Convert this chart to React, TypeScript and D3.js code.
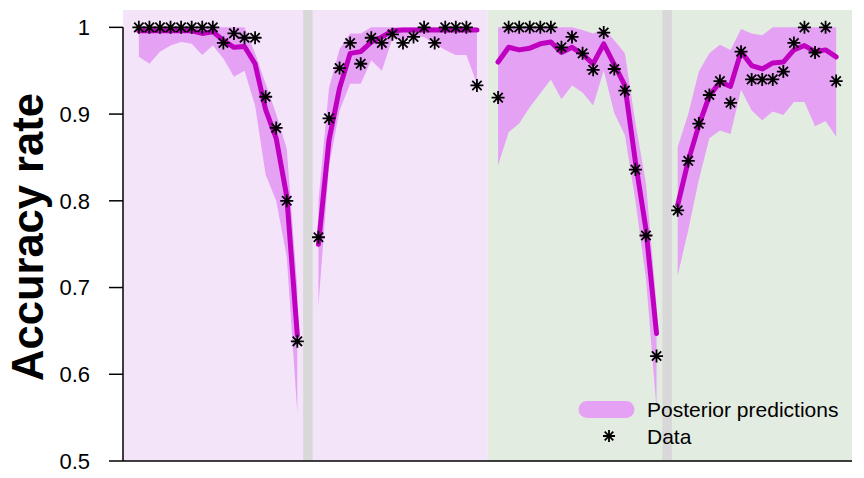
import React from 'react';
import * as d3 from 'd3';

// observed accuracy, one array per block of 16 trials
const dataBlocks = [
  [1, 1, 1, 1, 1, 1, 1, 1, 0.982, 0.993, 0.988, 0.988, 0.92, 0.884, 0.8, 0.638],
  [0.758, 0.895, 0.953, 0.982, 0.958, 0.988, 0.982, 0.992, 0.982, 0.989, 1, 0.982, 1, 1, 1, 0.933],
  [0.919, 1, 1, 1, 1, 1, 0.977, 0.989, 0.97, 0.951, 0.994, 0.952, 0.927, 0.836, 0.76, 0.621],
  [0.789, 0.846, 0.889, 0.922, 0.938, 0.913, 0.972, 0.94, 0.94, 0.94, 0.949, 0.982, 1, 0.971, 1, 0.938],
];

// posterior predictive mean
const meanBlocks = [
  [0.996, 0.996, 0.996, 0.996, 0.996, 0.996, 0.993, 0.995, 0.985, 0.977, 0.978, 0.958, 0.905, 0.872, 0.805, 0.645],
  [0.75, 0.87, 0.93, 0.97, 0.972, 0.983, 0.989, 0.996, 0.997, 0.997, 0.997, 0.997, 0.997, 0.997, 0.997, 0.997],
  [0.96, 0.977, 0.974, 0.976, 0.981, 0.983, 0.971, 0.977, 0.969, 0.958, 0.981, 0.957, 0.933, 0.845, 0.767, 0.647],
  [0.795, 0.846, 0.887, 0.921, 0.937, 0.932, 0.972, 0.956, 0.952, 0.959, 0.96, 0.974, 0.979, 0.972, 0.974, 0.966],
];

// posterior predictive interval
const lowerBlocks = [
  [0.966, 0.958, 0.972, 0.979, 0.983, 0.981, 0.968, 0.979, 0.964, 0.943, 0.95, 0.91, 0.83, 0.8, 0.735, 0.555],
  [0.68, 0.84, 0.904, 0.935, 0.935, 0.962, 0.95, 0.987, 0.985, 0.99, 0.989, 0.981, 0.974, 0.968, 0.968, 0.935],
  [0.841, 0.879, 0.889, 0.908, 0.924, 0.94, 0.917, 0.933, 0.925, 0.91, 0.95, 0.901, 0.876, 0.8, 0.71, 0.56],
  [0.714, 0.766, 0.824, 0.872, 0.881, 0.877, 0.928, 0.904, 0.893, 0.903, 0.899, 0.914, 0.914, 0.886, 0.892, 0.874],
];
const upperBlocks = [
  [1, 1, 1, 1, 1, 1, 1, 1, 1, 1, 1, 0.97, 0.935, 0.9, 0.86, 0.7],
  [0.8, 0.93, 0.975, 0.993, 0.993, 1, 1, 1, 1, 1, 1, 1, 1, 1, 1, 1],
  [1, 1, 1, 1, 1, 1, 1, 1, 0.997, 0.993, 0.998, 0.985, 0.97, 0.89, 0.82, 0.68],
  [0.862, 0.9, 0.949, 0.97, 0.98, 0.974, 0.998, 0.993, 0.991, 1, 1, 1, 1, 1, 1, 1],
];

const yTicks = [0.5, 0.6, 0.7, 0.8, 0.9, 1];
const yTickLabels = ['0.5', '0.6', '0.7', '0.8', '0.9', '1'];
const legendLabels = ['Posterior predictions', 'Data'];

const W = 864;
const H = 478;
const blockGap = 17; // trials per block + one empty slot
const FONT = '"Liberation Sans", Arial, Helvetica, sans-serif';

const BAND = '#e5a2f4';
const LINE = '#c000c0';

function Star({ x, y, r = 6.5 }: { x: number; y: number; r?: number }) {
  const d = r * 0.72;
  return (
    <path
      d={`M${x - r},${y}H${x + r}M${x},${y - r}V${y + r}M${x - d},${y - d}L${x + d},${y + d}M${x - d},${y + d}L${x + d},${y - d}`}
      stroke="#000"
      strokeWidth={1.8}
      fill="none"
    />
  );
}

export default function App() {
  const left = 123, right = 852, top = 10, bottom = 461;

  const x = d3.scaleLinear().domain([-1.5, 67.5]).range([left, right]);
  const y = d3.scaleLinear().domain([0.5, 1.02]).range([bottom, top]);

  const area = d3.area<number[]>()
    .x(d => x(d[0]))
    .y0(d => y(d[1]))
    .y1(d => y(d[2]));
  const line = d3.line<number[]>()
    .x(d => x(d[0]))
    .y(d => y(d[1]));

  return (
    <svg width={W} height={H} style={{ position: 'absolute', left: 0, top: 0, background: '#fff' }}>
      {/* condition backgrounds */}
      <rect x={x(-1.5)} y={top} width={x(33) - x(-1.5)} height={bottom - top} fill="#f4e4fa" />
      <rect x={x(33)} y={top} width={x(67.5) - x(33)} height={bottom - top} fill="#e3ece0" />
      {[16, 50].map(c => (
        <rect key={c} x={x(c - 0.45)} y={top} width={x(c + 0.45) - x(c - 0.45)} height={bottom - top} fill="#d8d8d8" />
      ))}

      {/* bands */}
      {dataBlocks.map((_, b) => {
        const pts = lowerBlocks[b].map((lo, j) => [b * blockGap + j, lo, upperBlocks[b][j]]);
        return <path key={'a' + b} d={area(pts) || ''} fill={BAND} />;
      })}

      {/* mean lines */}
      {meanBlocks.map((m, b) => {
        const pts = m.map((v, j) => [b * blockGap + j, v]);
        return <path key={'l' + b} d={line(pts) || ''} fill="none" stroke={LINE} strokeWidth={5} strokeLinejoin="round" strokeLinecap="round" />;
      })}

      {/* observed data */}
      {dataBlocks.map((vals, b) =>
        vals.map((v, j) => <Star key={`s${b}-${j}`} x={x(b * blockGap + j)} y={y(v)} />)
      )}

      {/* axes */}
      <line x1={left} x2={right} y1={bottom} y2={bottom} stroke="#000" strokeWidth={1.5} />
      <line x1={left} x2={left} y1={y(1)} y2={bottom} stroke="#000" strokeWidth={1.5} />
      {yTicks.map((t, i) => (
        <g key={t}>
          <line x1={left - 14} x2={left} y1={y(t)} y2={y(t)} stroke="#000" strokeWidth={1.5} />
          <text x={left - 33} y={y(t)} dy="0.36em" textAnchor="end" fontFamily={FONT} fontSize={22} fill="#000">
            {yTickLabels[i]}
          </text>
        </g>
      ))}
      <text
        transform={`translate(43, 237) rotate(-90)`}
        textAnchor="middle"
        fontFamily={FONT}
        fontWeight="bold"
        fontSize={43.5}
        fill="#000"
      >
        Accuracy rate
      </text>

      {/* legend */}
      <line x1={587} x2={626} y1={409.5} y2={409.5} stroke={BAND} strokeWidth={17} strokeLinecap="round" />
      <text x={647} y={416.5} fontFamily={FONT} fontSize={21} fill="#000">{legendLabels[0]}</text>
      <Star x={609} y={436} r={6} />
      <text x={647} y={443.5} fontFamily={FONT} fontSize={21} fill="#000">{legendLabels[1]}</text>
    </svg>
  );
}
